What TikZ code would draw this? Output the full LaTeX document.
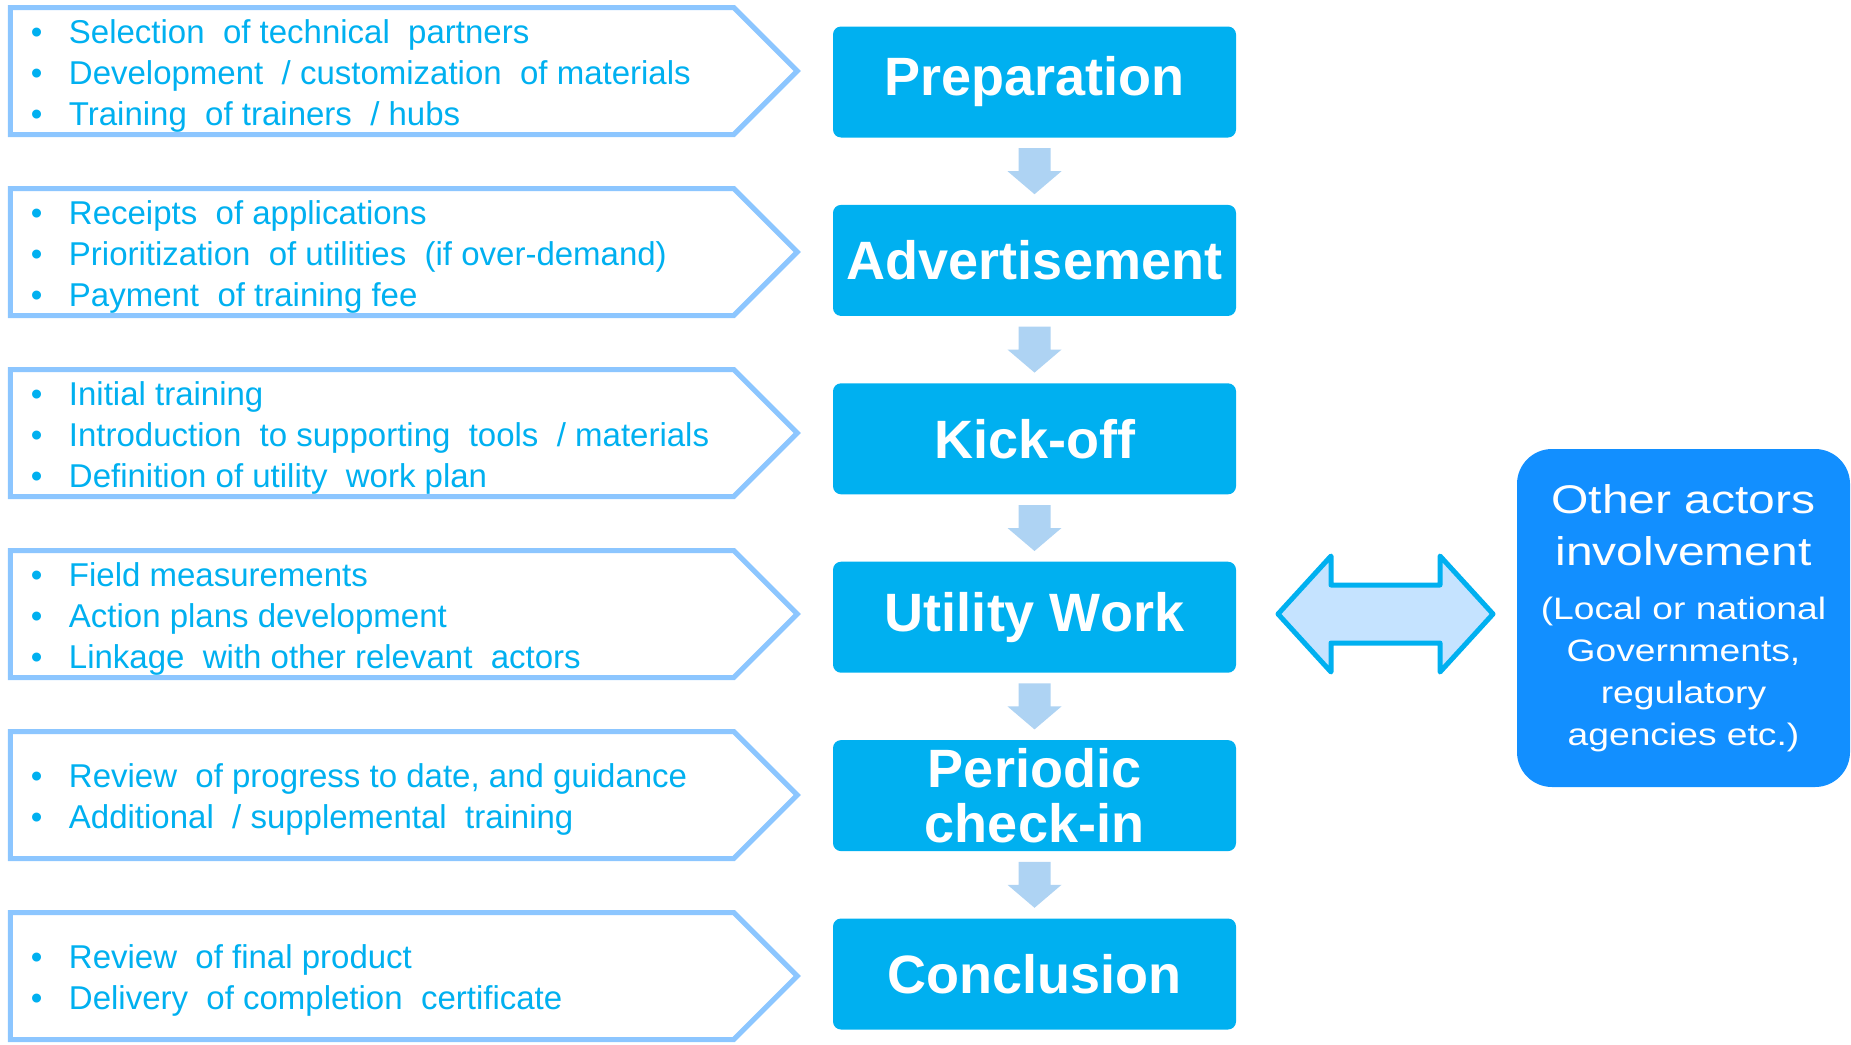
\documentclass[tikz,border=0pt]{standalone}
\usepackage{fontspec}
\setmainfont{Liberation Sans}
\newfontfamily\widesans[FakeStretch=1.2]{Liberation Sans}
\usepackage{tikz}
\usetikzlibrary{shapes.symbols, arrows.meta, positioning, calc}
\definecolor{phasecol}{RGB}{0,176,240}
\definecolor{txtcol}{RGB}{0,176,240}
\definecolor{lborder}{RGB}{140,198,255}
\definecolor{arrcol}{RGB}{174,211,243}
\definecolor{dblfill}{RGB}{197,227,255}
\definecolor{othercol}{RGB}{18,143,255}
\newcommand{\bl}{\makebox[38pt][l]{\textbullet}}
\newcommand{\sm}{\fontsize{31}{42}\selectfont}
\tikzset{
    phase/.style={rectangle, rounded corners=8, fill=phasecol, text=white, minimum width=403, minimum height=111, align=center, font=\fontsize{54}{55}\selectfont\bfseries},
    lbox/.style={signal, signal to=east, draw=lborder, line width=5, fill=white, minimum width=787, minimum height=127, inner sep=0},
    ltext/.style={text=txtcol, align=left, inner sep=0, anchor=west, font=\fontsize{33}{41}\selectfont},
    other/.style={rectangle, rounded corners=35, fill=othercol, text=white, minimum width=333, minimum height=338, align=center, font=\widesans\fontsize{40}{42}\selectfont},
    dblarr/.style={draw=phasecol, fill=dblfill, line width=5, line join=round},
    downarr/.pic={\fill[arrcol] (-16,-23) -- (16,-23) -- (16,0) -- (27,0) -- (0,23) -- (-27,0) -- (-16,0) -- cycle;},
}
\begin{document}
\begin{tikzpicture}[x=1pt, y=-1pt, node distance=67pt]
    \useasboundingbox (0,0) rectangle (1851,1044);

    \node [phase] (prep) at (1034.5,82) {Preparation};
    \node [phase, below=of prep] (adv) {Advertisement};
    \node [phase, below=of adv] (kick) {Kick-off};
    \node [phase, below=of kick] (util) {Utility Work};
    \node [phase, below=of util] (check) {Periodic\\check-in};
    \node [phase, below=of check] (concl) {Conclusion};

    \node [lbox] (lprep) at (372,71) {};
    \node [lbox, below=49pt of lprep] (ladv) {};
    \node [lbox, below=49pt of ladv] (lkick) {};
    \node [lbox, below=49pt of lkick] (lutil) {};
    \node [lbox, below=49pt of lutil] (lcheck) {};
    \node [lbox, below=49pt of lcheck] (lconcl) {};

    \node [ltext] (tprep) at ([xshift=23,yshift=-5]lprep.west) {\bl Selection~~of technical~~partners\\\bl Development~~/ customization~~of materials\\\bl Training~~of trainers~~/ hubs};
    \node [ltext] (tadv) at ([xshift=23,yshift=-5]ladv.west) {\bl Receipts~~of applications\\\bl Prioritization~~of utilities~~(if over-demand)\\\bl Payment~~of training fee};
    \node [ltext] (tkick) at ([xshift=23,yshift=-5]lkick.west) {\bl Initial training\\\bl Introduction~~to supporting~~tools~~/ materials\\\bl Definition of utility~~work plan};
    \node [ltext] (tutil) at ([xshift=23,yshift=-5]lutil.west) {\bl Field measurements\\\bl Action plans development\\\bl Linkage~~with other relevant~~actors};
    \node [ltext] (tcheck) at ([xshift=23,yshift=-4]lcheck.west) {\bl Review~~of progress to date, and guidance\\\bl Additional~~/ supplemental~~training};
    \node [ltext] (tconcl) at ([xshift=23,yshift=-4]lconcl.west) {\bl Review~~of final product\\\bl Delivery~~of completion~~certificate};

    \node [other] (actors) at (1683.5,618) {Other actors\\[10pt]involvement\\[12pt]\sm (Local or national\\\sm Governments,\\\sm regulatory\\\sm agencies etc.)};

    \pic at ($(prep.south)!.5!(adv.north)$) {downarr};
    \pic at ($(adv.south)!.5!(kick.north)$) {downarr};
    \pic at ($(kick.south)!.5!(util.north)$) {downarr};
    \pic at ($(util.south)!.5!(check.north)$) {downarr};
    \pic at ($(check.south)!.5!(concl.north)$) {downarr};

    \coordinate (link) at (1385.5,614);
    \draw [dblarr] ([xshift=-107.5]link) -- ++(53,-58) -- ++(0,29) -- ++(109,0) -- ++(0,-29) -- ++(53,58) -- ++(-53,58) -- ++(0,-29) -- ++(-109,0) -- ++(0,29) -- cycle;
\end{tikzpicture}
\end{document}
